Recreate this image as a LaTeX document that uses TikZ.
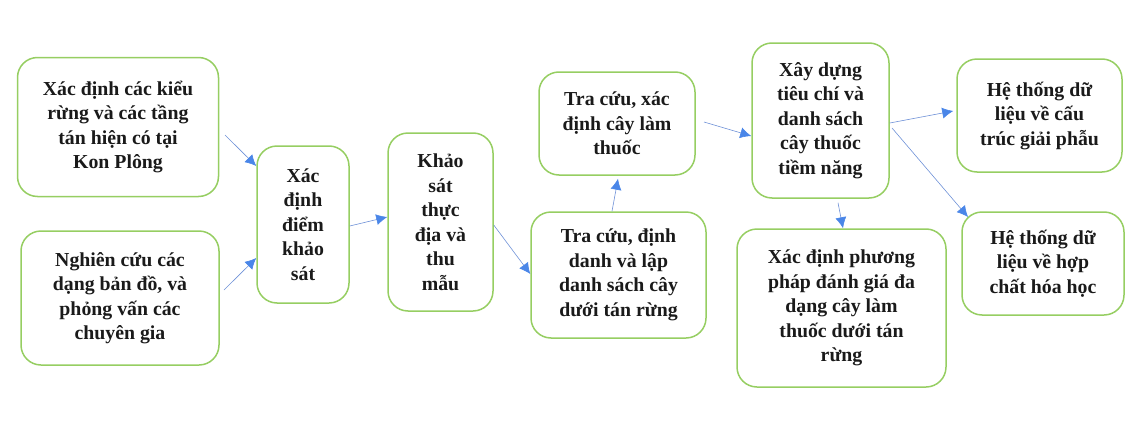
\documentclass[tikz,border=0pt]{standalone}
\usepackage{fontspec}
\setmainfont{Liberation Serif}
\usetikzlibrary{arrows.meta}
\definecolor{boxgreen}{RGB}{150,206,98}
\definecolor{arrline}{RGB}{110,145,215}
\definecolor{arrhead}{RGB}{74,134,232}
\definecolor{txt}{RGB}{26,26,26}
\tikzset{
  box/.style={draw=boxgreen, line width=1.5pt, rounded corners=20pt, fill=white,
    align=center, text=txt, inner sep=1pt,
    font=\fontsize{19.8}{24.5}\selectfont\bfseries},
  arr/.style={draw=arrline, line width=0.6pt,
    -{Latex[length=11pt,width=11pt,color=arrhead,fill=arrhead]}}
}
\begin{document}
\begin{tikzpicture}[x=1pt,y=-1pt]
\useasboundingbox (0,0) rectangle (1143,423);
% boxes
\node[box, minimum width=201pt, minimum height=139pt] (b1) at (118,127) {Xác định các kiểu\\rừng và các tầng\\tán hiện có tại\\Kon Plông};
\node[box, minimum width=198pt, minimum height=134pt] (b2) at (120,298) {Nghiên cứu các\\dạng bản đồ, và\\phỏng vấn các\\chuyên gia};
\node[box, minimum width=92pt, minimum height=157pt] (b3) at (303,224.5) {Xác\\định\\điểm\\khảo\\sát};
\node[box, minimum width=105pt, minimum height=178pt] (b4) at (440.5,222) {Khảo\\sát\\thực\\địa và\\thu\\mẫu};
\node[box, minimum width=156pt, minimum height=103pt] (b6) at (617,123.5) {Tra cứu, xác\\định cây làm\\thuốc};
\node[box, minimum width=175pt, minimum height=126pt] (b5) at (618.5,275) {Tra cứu, định\\danh và lập\\danh sách cây\\dưới tán rừng};
\node[box, minimum width=137pt, minimum height=155pt] (b7) at (820.5,120.5) {Xây dựng\\tiêu chí và\\danh sách\\cây thuốc\\tiềm năng};
\node[box, minimum width=209pt, minimum height=158pt] (b8) at (841.5,308) {Xác định phương\\pháp đánh giá đa\\dạng cây làm\\thuốc dưới tán\\rừng};
\node[box, minimum width=165pt, minimum height=113pt] (b9) at (1039.5,115.5) {Hệ thống dữ\\liệu về cấu\\trúc giải phẫu};
\node[box, minimum width=162pt, minimum height=103pt] (b10) at (1043,263.5) {Hệ thống dữ\\liệu về hợp\\chất hóa học};
% connector free ends
\coordinate (s1) at (225,135);
\coordinate (s2) at (224,290);
\coordinate (s6) at (704,122);
\coordinate (s8) at (892,128);
\coordinate (e8) at (968,217);
% connectors
\draw[arr] (s1) -- (b3.west |- 0,166);
\draw[arr] (s2) -- (b3.west |- 0,258);
\draw[arr] (b3.east |- 0,226) -- (b4.west |- 0,217);
\draw[arr] (b4.east |- 0,225) -- (b5.west |- 0,274);
\draw[arr] (b5.north -| 612,0) -- ([yshift=-3pt]b6.south -| 618,0);
\draw[arr] (s6) -- (b7.west |- 0,136);
\draw[arr] (b7.east |- 0,123) -- ([xshift=-3pt]b9.west |- 0,111);
\draw[arr] (s8) -- (e8);
\draw[arr] ([yshift=-4pt]b7.south -| 838,0) -- (b8.north -| 843,0);
\end{tikzpicture}
\end{document}
